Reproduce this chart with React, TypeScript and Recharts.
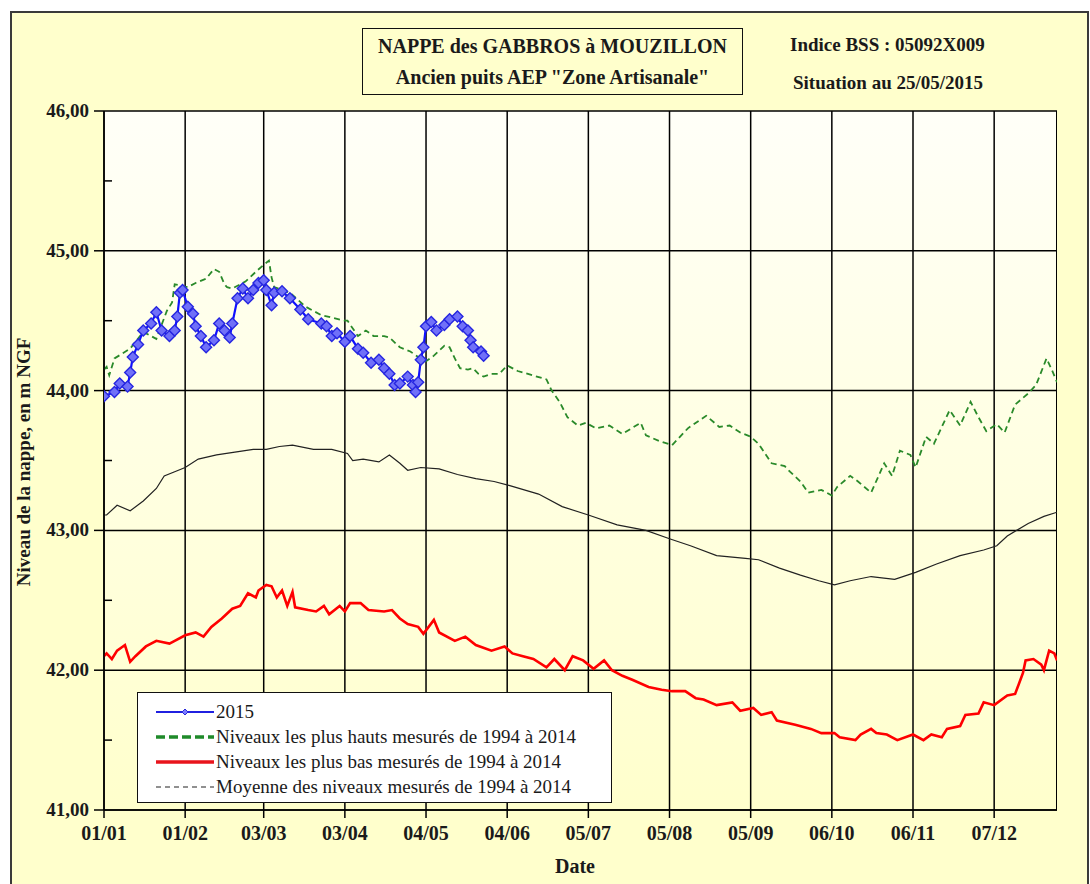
import React from 'react';
import { LineChart, Line, XAxis, YAxis, CartesianGrid } from 'recharts';

// day of year (0 = 1st January) and groundwater level in m NGF
const tickDays = [0, 31, 61, 92, 123, 154, 185, 216, 247, 278, 309, 340];
const tickLabels = ['01/01', '01/02', '03/03', '03/04', '04/05', '04/06', '05/07', '05/08', '05/09', '06/10', '06/11', '07/12'];
const levelTicks = [41, 41.5, 42, 42.5, 43, 43.5, 44, 44.5, 45, 45.5, 46];
const gridLevels = [41, 42, 43, 44, 45, 46];

const days2015 = [0, 4, 6, 9, 10, 11, 13, 15, 18, 20, 22, 25, 27, 28, 29, 30, 32, 34, 35, 37, 39, 42, 44, 46, 48, 49, 51, 53, 55, 57, 59, 61, 62, 64, 65, 68, 71, 75, 78, 83, 85, 87, 89, 92, 94, 97, 99, 102, 105, 107, 109, 111, 113, 116, 118, 119, 120, 121, 122, 123, 125, 127, 130, 132, 135, 137, 139, 140, 141, 144, 145];
const level2015 = [43.96, 43.99, 44.05, 44.03, 44.13, 44.24, 44.33, 44.43, 44.48, 44.56, 44.43, 44.39, 44.43, 44.53, 44.70, 44.72, 44.60, 44.55, 44.46, 44.39, 44.31, 44.36, 44.48, 44.43, 44.38, 44.48, 44.66, 44.73, 44.66, 44.72, 44.77, 44.79, 44.72, 44.61, 44.70, 44.71, 44.66, 44.58, 44.51, 44.48, 44.46, 44.39, 44.41, 44.35, 44.39, 44.30, 44.27, 44.20, 44.22, 44.16, 44.12, 44.04, 44.05, 44.10, 44.04, 43.99, 44.06, 44.22, 44.31, 44.46, 44.49, 44.43, 44.47, 44.51, 44.53, 44.46, 44.43, 44.36, 44.31, 44.28, 44.25];

const daysHigh = [0, 1, 2, 4, 10, 15, 20, 24, 26, 27, 32, 35, 39, 42, 44, 46, 47, 49, 54, 58, 61, 63, 64, 65, 71, 77, 83, 92, 93, 97, 100, 103, 107, 109, 113, 117, 120, 123, 126, 130, 132, 134, 136, 139, 141, 143, 145, 148, 151, 154, 158, 160, 169, 171, 174, 177, 181, 184, 188, 193, 198, 205, 207, 212, 217, 223, 230, 235, 239, 243, 247, 250, 255, 260, 262, 266, 269, 274, 278, 280, 285, 288, 293, 298, 301, 304, 308, 310, 314, 317, 323, 327, 331, 334, 337, 341, 344, 348, 353, 356, 360, 362, 364];
const levelHigh = [44.15, 44.17, 44.11, 44.23, 44.30, 44.42, 44.37, 44.57, 44.63, 44.76, 44.74, 44.77, 44.80, 44.87, 44.85, 44.76, 44.74, 44.73, 44.78, 44.85, 44.90, 44.93, 44.81, 44.74, 44.70, 44.60, 44.54, 44.50, 44.50, 44.39, 44.43, 44.39, 44.39, 44.38, 44.31, 44.28, 44.24, 44.21, 44.25, 44.32, 44.31, 44.23, 44.16, 44.15, 44.16, 44.12, 44.10, 44.12, 44.12, 44.18, 44.14, 44.13, 44.08, 44.00, 43.92, 43.81, 43.75, 43.77, 43.73, 43.75, 43.69, 43.77, 43.68, 43.64, 43.61, 43.73, 43.82, 43.74, 43.75, 43.70, 43.67, 43.62, 43.48, 43.46, 43.42, 43.35, 43.27, 43.29, 43.25, 43.31, 43.39, 43.35, 43.27, 43.48, 43.39, 43.57, 43.54, 43.45, 43.67, 43.62, 43.86, 43.75, 43.92, 43.81, 43.71, 43.76, 43.70, 43.90, 43.98, 44.04, 44.23, 44.15, 44.06];

const daysLow = [0, 1, 3, 5, 8, 10, 12, 16, 20, 25, 27, 31, 35, 38, 41, 45, 49, 52, 55, 58, 59, 62, 64, 66, 68, 70, 72, 73, 78, 81, 84, 86, 90, 92, 94, 98, 101, 107, 110, 113, 116, 120, 122, 126, 128, 134, 138, 142, 148, 153, 156, 160, 164, 169, 172, 176, 179, 183, 187, 191, 194, 198, 202, 208, 213, 217, 222, 226, 229, 234, 240, 243, 248, 251, 255, 257, 264, 270, 274, 279, 281, 287, 289, 293, 295, 299, 303, 309, 313, 316, 320, 322, 327, 329, 334, 336, 340, 345, 348, 350, 351, 352, 355, 358, 359, 361, 363, 364];
const levelLow = [42.10, 42.12, 42.08, 42.14, 42.18, 42.06, 42.10, 42.17, 42.21, 42.19, 42.21, 42.25, 42.27, 42.24, 42.31, 42.37, 42.44, 42.46, 42.55, 42.52, 42.57, 42.61, 42.60, 42.52, 42.57, 42.46, 42.56, 42.45, 42.43, 42.42, 42.46, 42.40, 42.46, 42.42, 42.48, 42.48, 42.43, 42.42, 42.43, 42.37, 42.33, 42.31, 42.26, 42.36, 42.27, 42.21, 42.24, 42.18, 42.14, 42.17, 42.12, 42.10, 42.08, 42.02, 42.08, 42.00, 42.10, 42.07, 42.01, 42.07, 42.00, 41.96, 41.93, 41.88, 41.86, 41.85, 41.85, 41.80, 41.79, 41.75, 41.77, 41.71, 41.73, 41.68, 41.70, 41.64, 41.61, 41.58, 41.55, 41.55, 41.52, 41.50, 41.54, 41.58, 41.55, 41.54, 41.50, 41.54, 41.50, 41.54, 41.52, 41.58, 41.60, 41.68, 41.69, 41.77, 41.75, 41.82, 41.83, 41.93, 41.98, 42.07, 42.08, 42.04, 42.00, 42.14, 42.12, 42.07];

const daysMean = [0, 1, 5, 10, 15, 20, 23, 27, 31, 36, 43, 50, 57, 62, 67, 72, 80, 87, 93, 95, 99, 105, 109, 113, 116, 121, 128, 135, 142, 149, 155, 166, 175, 185, 196, 207, 216, 224, 234, 245, 250, 258, 266, 273, 279, 285, 293, 302, 310, 318, 327, 336, 341, 345, 353, 359, 364];
const levelMean = [43.11, 43.11, 43.18, 43.14, 43.21, 43.30, 43.39, 43.42, 43.45, 43.51, 43.54, 43.56, 43.58, 43.58, 43.60, 43.61, 43.58, 43.58, 43.55, 43.50, 43.51, 43.49, 43.54, 43.48, 43.43, 43.45, 43.44, 43.40, 43.37, 43.35, 43.32, 43.26, 43.17, 43.11, 43.04, 43.00, 42.94, 42.89, 42.82, 42.80, 42.79, 42.73, 42.68, 42.64, 42.61, 42.64, 42.67, 42.65, 42.70, 42.76, 42.82, 42.86, 42.89, 42.96, 43.05, 43.10, 43.13];

const zip = (days: number[], levels: number[]) => days.map((day, i) => ({ day, level: levels[i] }));

const serif = '"Liberation Serif", "Times New Roman", serif';
const ink = '#1a1a1a';

const YTick = (props: any) => {
  const { x, y, payload } = props;
  const v = payload.value as number;
  const ax = x + 10;
  if (!Number.isInteger(v)) {
    return <line x1={ax} x2={ax + 8} y1={y} y2={y} stroke="#000" strokeWidth={1.5} />;
  }
  return (
    <g>
      <line x1={ax - 10} x2={ax} y1={y} y2={y} stroke="#000" strokeWidth={1.5} />
      <text x={ax - 15} y={y} dy={6} textAnchor="end" fontFamily={serif} fontWeight="bold" fontSize={19} fill={ink}>
        {v.toFixed(2).replace('.', ',')}
      </text>
    </g>
  );
};

const Diamond = (props: any) => {
  const { cx, cy, index } = props;
  const r = 5.5;
  return (
    <polygon
      key={`d-${index}`}
      points={`${cx},${cy - r} ${cx + r},${cy} ${cx},${cy + r} ${cx - r},${cy}`}
      fill="#7070f8"
      stroke="#2626e0"
      strokeWidth={1.4}
    />
  );
};

const legendItems = [
  { label: '2015', color: '#2020e0', width: 2, dash: '', marker: true },
  { label: 'Niveaux les plus hauts mesurés de 1994 à 2014', color: '#1f8a2a', width: 3.5, dash: '9 4', marker: false },
  { label: 'Niveaux les plus bas mesurés de 1994 à 2014', color: '#e8141c', width: 3.5, dash: '', marker: false },
  { label: 'Moyenne des niveaux mesurés de 1994 à 2014', color: '#222', width: 1.2, dash: '5 4', marker: false },
];

export default function App() {
  return (
    <div style={{ position: 'relative', width: 1090, height: 884, background: '#fff', overflow: 'hidden' }}>
      <style>{'body{margin:0}'}</style>
      {/* outer frame */}
      <div style={{ position: 'absolute', left: 10, top: 11, width: 1075, height: 880, background: '#ffffcc', border: '2px solid #3a3a3a' }} />
      {/* plot background */}
      <div style={{ position: 'absolute', left: 104, top: 111, width: 953, height: 699, background: 'linear-gradient(#fffff8, #ffffcc)', borderRight: '1.5px solid #000', boxSizing: 'border-box' }} />

      <div style={{ position: 'absolute', left: 0, top: 0 }}>
        <LineChart width={1090} height={884} margin={{ top: 111, right: 33, bottom: 44, left: 44 }}>
          <CartesianGrid stroke="#000" strokeWidth={1.5} horizontalValues={gridLevels} verticalValues={tickDays} />
          <XAxis
            dataKey="day"
            type="number"
            domain={[0, 364]}
            ticks={tickDays}
            allowDataOverflow
            height={30}
            tickSize={8}
            tickMargin={8}
            stroke="#000"
            strokeWidth={1.5}
            tickFormatter={(d: number) => tickLabels[tickDays.indexOf(d)] ?? ''}
            tick={{ fontFamily: serif, fontWeight: 'bold', fontSize: 20, fill: ink }}
          />
          <YAxis
            type="number"
            domain={[41, 46]}
            ticks={levelTicks}
            allowDataOverflow
            width={60}
            tickSize={0}
            tickMargin={10}
            stroke="#000"
            strokeWidth={1.5}
            tick={<YTick />}
          />
          <Line data={zip(daysMean, levelMean)} dataKey="level" type="linear" stroke="#222" strokeWidth={1.2} dot={false} isAnimationActive={false} />
          <Line data={zip(daysLow, levelLow)} dataKey="level" type="linear" stroke="#ff0000" strokeWidth={2.6} dot={false} isAnimationActive={false} />
          <Line data={zip(daysHigh, levelHigh)} dataKey="level" type="linear" stroke="#2a8a2a" strokeWidth={1.8} strokeDasharray="6 4" dot={false} isAnimationActive={false} />
          <Line data={zip(days2015, level2015)} dataKey="level" type="linear" stroke="#1010ff" strokeWidth={2.2} dot={<Diamond />} isAnimationActive={false} />
        </LineChart>
      </div>

      {/* title box */}
      <div style={{ position: 'absolute', left: 362, top: 28, width: 381, height: 67, boxSizing: 'border-box', border: '1.5px solid #111', background: '#ffffcc', fontFamily: serif, fontWeight: 'bold', fontSize: 20, color: ink, textAlign: 'center', lineHeight: '31px', paddingTop: 2 }}>
        <div>NAPPE des GABBROS à MOUZILLON</div>
        <div>Ancien puits AEP "Zone Artisanale"</div>
      </div>
      <div style={{ position: 'absolute', left: 790, top: 34, fontFamily: serif, fontWeight: 'bold', fontSize: 19, color: ink }}>Indice BSS : 05092X009</div>
      <div style={{ position: 'absolute', left: 793, top: 72, fontFamily: serif, fontWeight: 'bold', fontSize: 19, color: ink }}>Situation au 25/05/2015</div>

      {/* axis titles */}
      <div style={{ position: 'absolute', left: 24, top: 462, transform: 'translate(-50%, -50%) rotate(-90deg)', whiteSpace: 'nowrap', fontFamily: serif, fontWeight: 'bold', fontSize: 19, color: ink }}>
        Niveau de la nappe, en m NGF
      </div>
      <div style={{ position: 'absolute', left: 575, top: 866, transform: 'translate(-50%, -50%)', fontFamily: serif, fontWeight: 'bold', fontSize: 20, color: ink }}>
        Date
      </div>

      {/* legend */}
      <div style={{ position: 'absolute', left: 137, top: 692, width: 475, height: 111, boxSizing: 'border-box', border: '1.5px solid #111', background: '#fff', paddingTop: 6, fontFamily: serif, fontSize: 19, color: ink }}>
        {legendItems.map((it) => (
          <div key={it.label} style={{ display: 'flex', alignItems: 'center', height: 25 }}>
            <svg width={78} height={14}>
              <line x1={18} x2={76} y1={7} y2={7} stroke={it.color} strokeWidth={it.width} strokeDasharray={it.dash || undefined} />
              {it.marker && <polygon points="47,4 50,7 47,10 44,7" fill="#7a7aff" stroke="#2a2ad8" strokeWidth={1} />}
            </svg>
            <span style={{ whiteSpace: 'nowrap' }}>{it.label}</span>
          </div>
        ))}
      </div>
    </div>
  );
}
